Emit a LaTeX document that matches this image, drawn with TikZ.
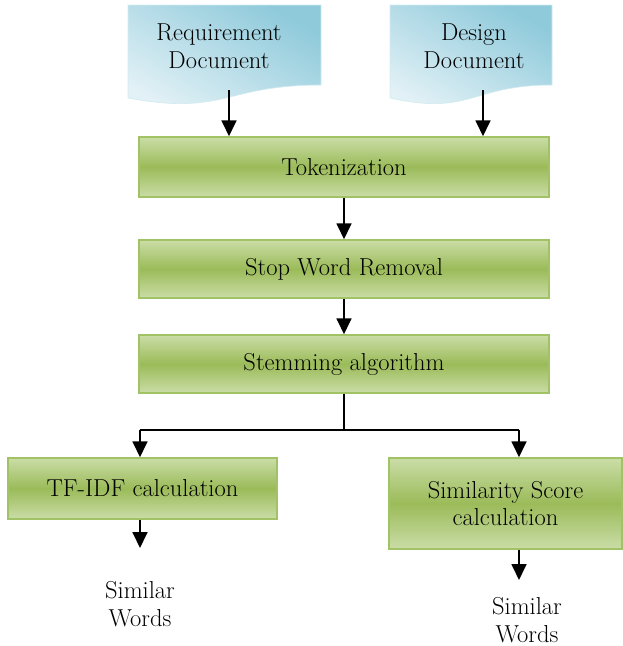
\documentclass[tikz,border=0pt]{standalone}
\usepackage{tikz}
\usetikzlibrary{arrows.meta, positioning, calc}

\definecolor{boxmid}{HTML}{9BBB59}
\definecolor{boxlight}{HTML}{CADDA7}
\definecolor{boxline}{HTML}{A2C266}
\definecolor{docdark}{HTML}{8FCADB}
\definecolor{doclight}{HTML}{E2F1F6}

\tikzset{
  procbox/.style={draw=boxline, line width=1.5pt, rectangle, top color=boxlight, bottom color=boxlight, middle color=boxmid, align=center, inner sep=2pt},
  docpage/.style={top color=docdark, bottom color=doclight, shading angle=-30, draw=docdark!40, line width=0.6pt},
  outtext/.style={align=center}
}

\begin{document}
\begin{tikzpicture}[x=1pt, y=-1pt, >={Triangle[width=15pt,length=16pt]}, font=\fontsize{24.5}{27.5}\selectfont]
				\useasboundingbox (0,0) rectangle (623,646);
				% source documents
				\shade[docpage] (128,5) -- (321,5) -- (321,85) .. controls (224.5,85) and (224.5,116) .. (128,98) -- cycle;
				\shade[docpage] (390,5) -- (552,5) -- (552,85) .. controls (471,85) and (471,116) .. (390,98) -- cycle;
				\node[outtext] (reqdoc) at (219,46) {Requirement\\Document};
				\node[outtext] (desdoc) at (474,46) {Design\\Document};
				\coordinate (reqout) at (229,90);
				\coordinate (desout) at (483,90);
				
				% processing steps
				\node[procbox, minimum width=410pt, minimum height=60pt] (tok) at (344,167) {Tokenization};
				\node[procbox, minimum width=410pt, minimum height=58pt] (stop) at (344,269) {Stop Word Removal};
				\node[procbox, minimum width=410pt, minimum height=58pt] (stem) at (344,364) {Stemming algorithm};
				\node[procbox, minimum width=269pt, minimum height=61pt] (tfidf) at (142.5,488.5) {TF-IDF calculation};
				\node[procbox, minimum width=233pt, minimum height=91pt] (sim) at (505.5,503.5) {Similarity Score\\calculation};
				
				% results
				\node[outtext] (wordsA) at (140,604) {Similar\\Words};
				\node[outtext] (wordsB) at (527,620) {Similar\\Words};
				
				\coordinate (split) at (344,430);
				\coordinate (brL) at (140,430);
				\coordinate (brR) at (519,430);
				\coordinate (tipA) at (140,548);
				\coordinate (tipB) at (519,580);
				
				\draw[->, line width=1.8pt] (reqout) -- (reqout |- tok.north);
				\draw[->, line width=1.8pt] (desout) -- (desout |- tok.north);
				\draw[->, line width=1.8pt] (tok) -- (stop);
				\draw[->, line width=1.8pt] (stop) -- (stem);
				\draw[line width=1.8pt] (stem.south) -- (split);
				\draw[line width=1.8pt] (brL) -- (brR);
				\draw[->, line width=1.8pt] (brL) -- (brL |- tfidf.north);
				\draw[->, line width=1.8pt] (brR) -- (brR |- sim.north);
				\draw[->, line width=1.8pt] (tipA |- tfidf.south) -- (tipA);
				\draw[->, line width=1.8pt] (tipB |- sim.south) -- (tipB);
			\end{tikzpicture}
\end{document}
